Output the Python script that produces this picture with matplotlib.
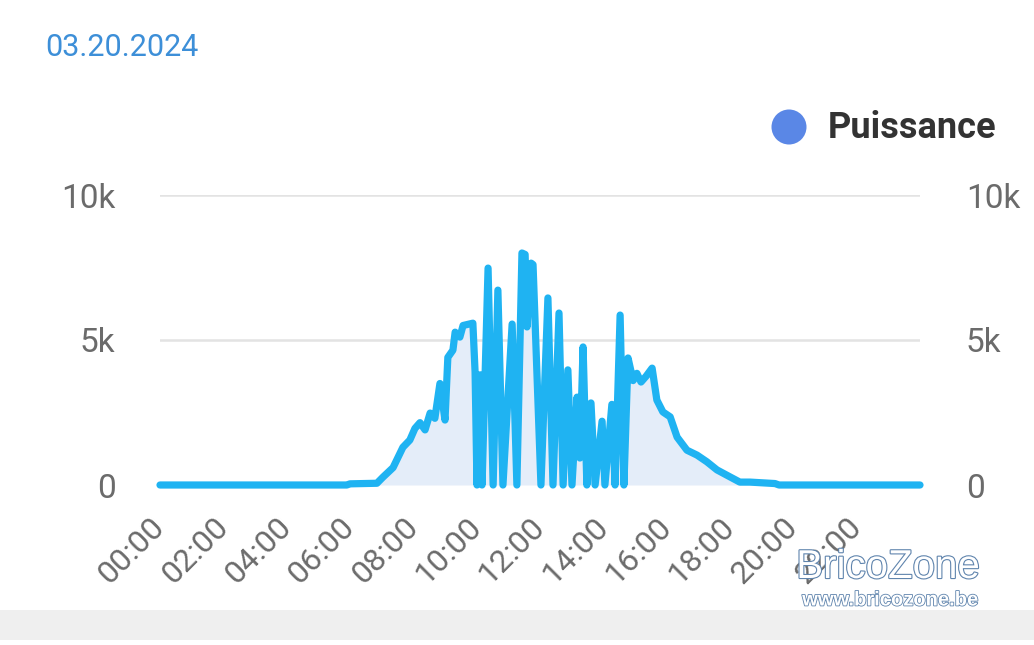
import matplotlib
matplotlib.use("Agg")
import matplotlib.pyplot as plt
import matplotlib.patheffects as pe
from matplotlib.patches import Rectangle, Circle

plt.rcParams['font.family'] = ['Roboto', 'DejaVu Sans']

title = "03.20.2024"
series_name = "Puissance"
tick_hours = list(range(0, 24, 2))
tick_labels = [f"{h:02d}:00" for h in tick_hours]
y_ticks = [0, 5000, 10000]
y_tick_labels = ["0", "5k", "10k"]

hours = [0.0, 5.9, 6.0, 6.85, 7.04, 7.36, 7.67, 7.89, 8.05, 8.21, 8.37, 8.53, 8.68,
         8.84, 9.0, 9.09, 9.25, 9.32, 9.47, 9.57, 9.88, 9.95, 10.01, 10.11, 10.17,
         10.36, 10.52, 10.67, 10.83, 11.12, 11.27, 11.43, 11.53, 11.59, 11.72, 11.78,
         12.03, 12.25, 12.41, 12.6, 12.73, 12.88, 13.01, 13.17, 13.26, 13.36, 13.48,
         13.61, 13.74, 13.96, 14.05, 14.27, 14.37, 14.53, 14.65, 14.78, 14.94, 15.06,
         15.19, 15.35, 15.54, 15.69, 15.88, 16.11, 16.33, 16.64, 16.96, 17.27, 17.59,
         18.0, 18.31, 18.63, 19.42, 19.55, 24.0]
power = [0, 0, 40, 60, 270, 600, 1300, 1550, 1950, 2150, 1900, 2480, 2300,
         3500, 2240, 4400, 4650, 5270, 5100, 5500, 5580, 3900, 0, 3800, 0,
         7480, 0, 6720, 0, 5550, 0, 8000, 7950, 5450, 7650, 7600,
         0, 6450, 0, 5930, 0, 3970, 0, 3030, 930, 4760, 0,
         2830, 0, 2200, 0, 2780, 0, 5860, 0, 4380, 3600, 3850,
         3550, 3750, 4030, 2930, 2520, 2350, 1650, 1200, 1030, 800, 520,
         280, 100, 100, 50, 0, 0]

fig = plt.figure(figsize=(10.34, 6.45), dpi=100)
ax = fig.add_axes([160/1034, 1-485/645, 760/1034, 290/645])

line_color = "#1fb3f2"
ax.fill_between(hours, power, 0, color="#e4edf9", lw=0, zorder=2)
ax.plot(hours, power, color=line_color, lw=5.2, solid_joinstyle='round',
        solid_capstyle='round', zorder=3, clip_on=False)

ax.set_xlim(0, 24)
ax.set_ylim(0, 10000)
for yv in y_ticks[1:]:
    ax.axhline(yv, color="#e3e3e3", lw=1.8, zorder=1)
ax.axhline(0, color="#c8cbd6", lw=1.8, zorder=1)

for s in ax.spines.values():
    s.set_visible(False)

ax.set_yticks(y_ticks)
ax.set_yticklabels(y_tick_labels)
ax.tick_params(axis='y', length=0, pad=32, labelsize=24, labelcolor="#6b6b6b")

ax2 = ax.twinx()
ax2.set_ylim(0, 10000)
ax2.set_yticks(y_ticks)
ax2.set_yticklabels(y_tick_labels)
ax2.tick_params(axis='y', length=0, pad=33, labelsize=24, labelcolor="#6b6b6b")
for s in ax2.spines.values():
    s.set_visible(False)

ax.set_xticks(tick_hours)
ax.set_xticklabels(tick_labels, rotation=45, ha='right', va='center',
                   rotation_mode='anchor')
ax.tick_params(axis='x', length=0, pad=27, labelsize=23, labelcolor="#6b6b6b")

# title
fig.text(45/1034, 1-47/645, title, color="#3d8fd8", fontsize=22, va='center', ha='left')

# legend / overlay
ax_leg = fig.add_axes([0, 0, 1, 1], facecolor='none')
ax_leg.set_xlim(0, 1034)
ax_leg.set_ylim(645, 0)
ax_leg.axis('off')
ax_leg.add_patch(Circle((789, 127), 17.5, color="#5a87e6", lw=0))
ax_leg.text(828, 128, series_name, fontsize=26, fontweight='bold', color="#333333",
            va='center', ha='left')

# bottom band
ax_leg.add_patch(Rectangle((0, 610), 1034, 30, color="#efefef", lw=0))

# watermark
wm = ax_leg.text(888, 567, "BricoZone", fontsize=29, color="white", ha='center', va='center',
                 family=['Liberation Sans', 'DejaVu Sans'])
wm.set_path_effects([pe.Stroke(linewidth=1.6, foreground="#5f84ad"), pe.Normal()])
wm2 = ax_leg.text(890, 600, "www.bricozone.be", fontsize=14.5, color="white", ha='center',
                  va='center', fontweight='bold', family=['Liberation Sans', 'DejaVu Sans'])
wm2.set_path_effects([pe.Stroke(linewidth=1.2, foreground="#5f84ad"), pe.Normal()])

fig.savefig("out.png", dpi=100)
